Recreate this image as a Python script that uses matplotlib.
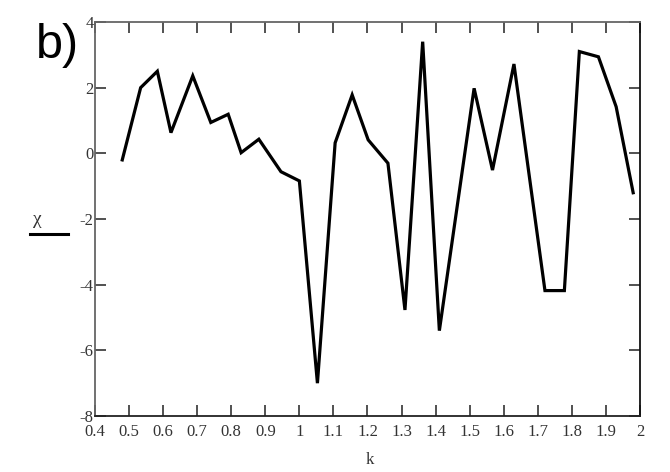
import matplotlib
matplotlib.use("Agg")
import matplotlib.pyplot as plt
from matplotlib.lines import Line2D

# --- Data ---
k = [0.48, 0.534, 0.583, 0.623, 0.687, 0.74, 0.791, 0.829, 0.881, 0.946, 1.0,
     1.053, 1.105, 1.155, 1.202, 1.26, 1.31, 1.362, 1.411, 1.513, 1.567, 1.63,
     1.721, 1.778, 1.822, 1.878, 1.93, 1.98]
chi = [-0.2, 2.0, 2.5, 0.63, 2.36, 0.94, 1.19, 0.02, 0.43, -0.56, -0.84,
       -7.0, 0.32, 1.78, 0.41, -0.3, -4.77, 3.4, -5.4, 1.98, -0.51, 2.72,
       -4.18, -4.18, 3.1, 2.94, 1.42, -1.2]

x_ticks = [0.4, 0.5, 0.6, 0.7, 0.8, 0.9, 1.0, 1.1, 1.2, 1.3, 1.4, 1.5, 1.6, 1.7, 1.8, 1.9, 2.0]
x_labels = ["0.4", "0.5", "0.6", "0.7", "0.8", "0.9", "1", "1.1", "1.2", "1.3",
            "1.4", "1.5", "1.6", "1.7", "1.8", "1.9", "2"]
y_ticks = [-8, -6, -4, -2, 0, 2, 4]

fig = plt.figure(figsize=(6.7, 4.72), dpi=100)
ax = fig.add_axes([0.1418, 0.1186, 0.8134, 0.8348])

ax.plot(k, chi, color="black", linewidth=2.3, solid_joinstyle="miter")

ax.set_xlim(0.4, 2.0)
ax.set_ylim(-8, 4)
ax.set_xticks(x_ticks)
ax.set_xticklabels(x_labels)
ax.set_yticks(y_ticks)
ax.set_yticklabels([str(v) for v in y_ticks])

serif = "Liberation Serif"
ax.tick_params(direction="in", length=8, width=1.2, top=True, right=True,
               labelsize=12, colors="#333333")
for lab in ax.get_xticklabels() + ax.get_yticklabels():
    lab.set_family(serif)
    lab.set_color("#333333")
ax.tick_params(axis="y", pad=1)
ax.tick_params(axis="x", pad=6)

for side in ["left", "bottom", "right", "top"]:
    ax.spines[side].set_linewidth(1.3)
ax.spines["left"].set_color("#666666")
ax.spines["top"].set_color("#666666")
ax.spines["bottom"].set_color("#222222")
ax.spines["right"].set_color("#111111")

# axis labels, placed like the original (label over a bar on the left)
fig.text(370 / 670, 1 - 460 / 472, "k", family=serif, fontsize=12,
         ha="center", va="center", color="#333333")
fig.text(37 / 670, 1 - 219 / 472, "χ", family=serif, fontsize=14,
         ha="center", va="center", color="#333333")
fig.add_artist(Line2D([30 / 670, 68 / 670], [1 - 234 / 472, 1 - 234 / 472],
                      transform=fig.transFigure, color="black", linewidth=2.2))

fig.text(36 / 670, 1 - 45 / 472, "b)", family="Liberation Sans", fontsize=35,
         ha="left", va="center", color="black")

plt.savefig("out.png", dpi=100)
